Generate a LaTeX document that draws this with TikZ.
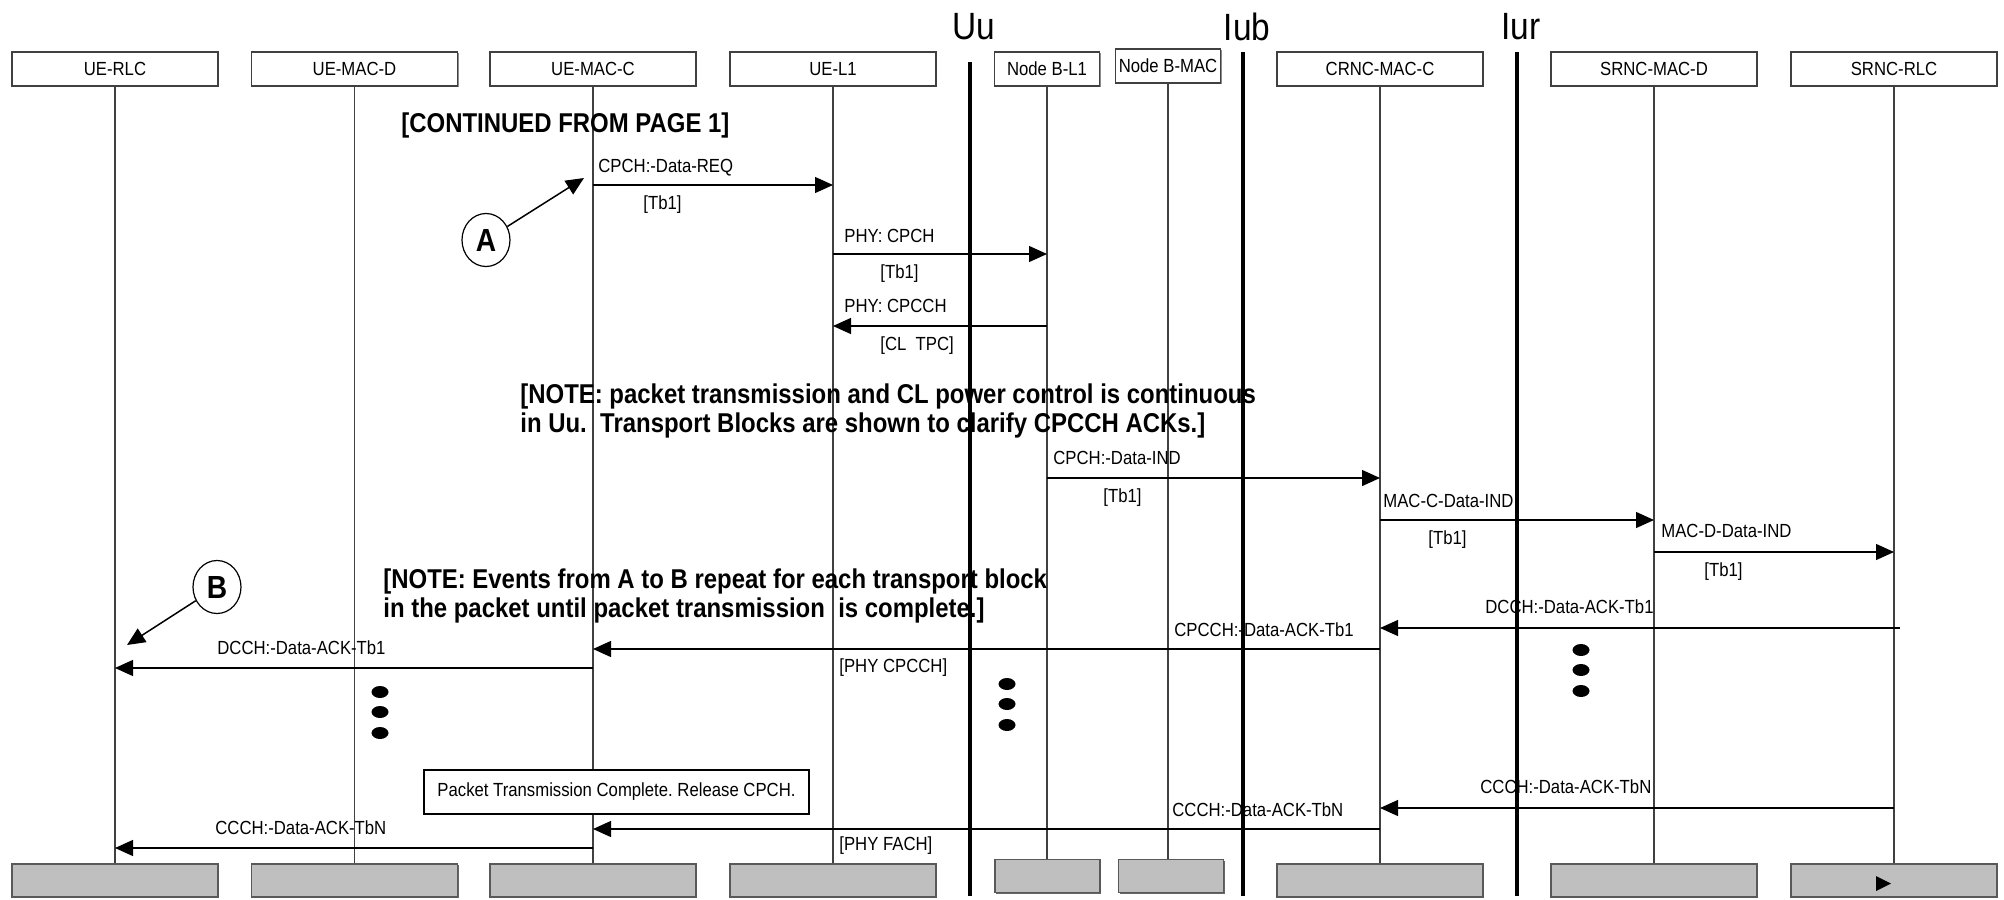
\documentclass[tikz,border=0pt]{standalone}
\usepackage{fontspec}
\setmainfont{Liberation Sans}[FakeStretch=0.88]
\usetikzlibrary{arrows.meta,shapes.geometric,shadows}
\newcommand{\lblfont}{\fontsize{9.5}{11}\selectfont}
\newcommand{\notefont}{\fontsize{13.6}{14.5}\selectfont\bfseries}
\newcommand{\ifacefont}{\fontsize{19}{22}\selectfont}
\frenchspacing
\begin{document}
\begin{tikzpicture}[x=0.5pt,y=-0.5pt,
  hdr/.style={draw=black!75, line width=0.6pt, fill=white, minimum width=103pt, minimum height=17pt, inner sep=0pt, font=\lblfont,
    general shadow={shadow xshift=0.6pt, shadow yshift=-0.6pt, fill=black!45}},
  nbhdr/.style={hdr, minimum width=52.5pt},
  ftr/.style={draw=black!65, line width=0.6pt, fill=black!25, minimum width=103pt, minimum height=16.5pt, inner sep=0pt,
    general shadow={shadow xshift=0.6pt, shadow yshift=-0.6pt, fill=black!60}},
  nbftr/.style={ftr, minimum width=52.5pt},
  life/.style={draw=black!75, line width=0.55pt},
  iface/.style={line width=1.6pt},
  msg/.style={line width=0.65pt, -{Triangle[length=9pt,width=8pt]}},
  lbl/.style={font=\lblfont, inner sep=0pt, text height=6.8pt, text depth=0pt, anchor=west},
  note/.style={font=\notefont, align=left, inner sep=0pt, anchor=north west},
  ifacelbl/.style={font=\ifacefont, inner sep=0pt},
  circ/.style={ellipse, draw, line width=0.6pt, minimum width=24pt, minimum height=26.5pt, inner sep=0pt, font=\fontsize{16}{18}\selectfont\bfseries},
  ptr/.style={line width=0.75pt, -{Triangle[length=9pt,width=8pt]}},
  bigdot/.style={fill=black}
]
\useasboundingbox (0,0) rectangle (2004,900);

% header boxes
\node[hdr] (rlc) at (115,69) {UE-RLC};
\node[hdr] (macd) at (354.5,69) {UE-MAC-D};
\node[hdr] (macc) at (593,69) {UE-MAC-C};
\node[hdr] (l1) at (833,69) {UE-L1};
\node[nbhdr] (nbl1) at (1047,69) {Node B-L1};
\node[nbhdr] (nbmac) at (1168,66) {Node B-MAC};
\node[hdr] (crnc) at (1380,69) {CRNC-MAC-C};
\node[hdr] (smacd) at (1654,69) {SRNC-MAC-D};
\node[hdr] (srlc) at (1894,69) {SRNC-RLC};

% footer boxes
\node[ftr] (rlcB) at (115,880.5) {};
\node[ftr] (macdB) at (354.5,880.5) {};
\node[ftr] (maccB) at (593,880.5) {};
\node[ftr] (l1B) at (833,880.5) {};
\node[nbftr] (nbl1B) at (1047.5,876) {};
\node[nbftr] (nbmacB) at (1171,876) {};
\node[ftr] (crncB) at (1380,880.5) {};
\node[ftr] (smacdB) at (1654,880.5) {};
\node[ftr] (srlcB) at (1894,880.5) {};
\fill (1876,876) -- (1891,883.5) -- (1876,891) -- cycle;

% lifelines
\draw[life] (rlc) -- (rlcB);
\draw[life] (macd) -- (macdB);
\draw[life] (macc) -- (maccB);
\draw[life] (l1) -- (l1B);
\draw[life] (nbl1.south) -- (nbl1.south |- nbl1B.north);
\draw[life] (nbmac.south) -- (nbmac.south |- nbmacB.north);
\draw[life] (crnc) -- (crncB);
\draw[life] (smacd) -- (smacdB);
\draw[life] (srlc) -- (srlcB);

% interfaces
\node[ifacelbl] (uu) at (974,27) {Uu};
\node[ifacelbl] (iub) at (1247,27) {Iub};
\node[ifacelbl] (iur) at (1521,27) {Iur};
\coordinate (uuT) at (970,62);  \coordinate (uuB) at (970,896);
\coordinate (iubT) at (1243,52); \coordinate (iubB) at (1243,896);
\coordinate (iurT) at (1517,52); \coordinate (iurB) at (1517,896);
\draw[iface] (uuT) -- (uuB);
\draw[iface] (iubT) -- (iubB);
\draw[iface] (iurT) -- (iurB);

% notes
\node[note] (cont) at (401,112) {[CONTINUED FROM PAGE 1]};
\node[note] (note1) at (520,383) {[NOTE: packet transmission and CL power control is continuous\\in Uu.\ \ Transport Blocks are shown to clarify CPCCH ACKs.]};
\node[note] (note2) at (383,568) {[NOTE: Events from A to B repeat for each transport block\\in the packet until packet transmission\ \ is complete.]};

% A / B markers
\node[circ] (A) at (486,240) {A};
\coordinate (Atip) at (584,178);
\draw[ptr] (A) -- (Atip);
\node[circ] (B) at (217,587) {B};
\coordinate (Btip) at (127,645);
\draw[ptr] (B) -- (Btip);

% messages
\draw[msg] (macc |- 0,185) -- (l1 |- 0,185);
\node[lbl] (m1) at (598,166) {CPCH:-Data-REQ};
\node[lbl] (m1b) at (643,203) {[Tb1]};

\draw[msg] (l1 |- 0,254) -- (nbl1 |- 0,254);
\node[lbl] (m2) at (844,236) {PHY: CPCH};
\node[lbl] (m2b) at (880,272) {[Tb1]};

\draw[msg] (nbl1 |- 0,326) -- (l1 |- 0,326);
\node[lbl] (m3) at (844,306) {PHY: CPCCH};
\node[lbl] (m3b) at (880,344) {[CL\ \ TPC]};

\draw[msg] (nbl1 |- 0,478) -- (crnc |- 0,478);
\node[lbl] (m4) at (1053,458) {CPCH:-Data-IND};
\node[lbl] (m4b) at (1103,496) {[Tb1]};

\draw[msg] (crnc |- 0,520) -- (smacd |- 0,520);
\node[lbl] (m5) at (1383,501) {MAC-C-Data-IND};
\node[lbl] (m5b) at (1428,538) {[Tb1]};

\draw[msg] (smacd |- 0,552) -- (srlc |- 0,552);
\node[lbl] (m6) at (1661,531) {MAC-D-Data-IND};
\node[lbl] (m6b) at (1704,570) {[Tb1]};

\coordinate (d1s) at (1900,628);
\draw[msg] (d1s) -- (crnc |- d1s);
\node[lbl] (m7) at (1485,607) {DCCH:-Data-ACK-Tb1};

\draw[msg] (crnc |- 0,649) -- (macc |- 0,649);
\node[lbl] (m8) at (1174,630) {CPCCH:-Data-ACK-Tb1};
\node[lbl] (m8b) at (839,666) {[PHY CPCCH]};

\draw[msg] (macc |- 0,668) -- (rlc |- 0,668);
\node[lbl] (m9) at (217,648) {DCCH:-Data-ACK-Tb1};

% continuation dots
\fill[bigdot] (380,692) ellipse [x radius=4.25pt, y radius=3pt];
\fill[bigdot] (380,712) ellipse [x radius=4.25pt, y radius=3pt];
\fill[bigdot] (380,733) ellipse [x radius=4.25pt, y radius=3pt];
\fill[bigdot] (1007,684) ellipse [x radius=4.25pt, y radius=3pt];
\fill[bigdot] (1007,704) ellipse [x radius=4.25pt, y radius=3pt];
\fill[bigdot] (1007,725) ellipse [x radius=4.25pt, y radius=3pt];
\fill[bigdot] (1581,650) ellipse [x radius=4.25pt, y radius=3pt];
\fill[bigdot] (1581,670) ellipse [x radius=4.25pt, y radius=3pt];
\fill[bigdot] (1581,691) ellipse [x radius=4.25pt, y radius=3pt];

% packet complete box
\node[draw, line width=0.6pt, fill=white, minimum width=192.5pt, minimum height=22pt, inner sep=0pt, font=\lblfont,
  general shadow={shadow xshift=0.6pt, shadow yshift=-0.6pt, fill=black!45}] (pkt) at (616.5,792) {Packet Transmission Complete. Release CPCH.};

\draw[msg] (srlc |- 0,808) -- (crnc |- 0,808);
\node[lbl] (m10) at (1480,787) {CCCH:-Data-ACK-TbN};

\draw[msg] (crnc |- 0,829) -- (macc |- 0,829);
\node[lbl] (m11) at (1172,810) {CCCH:-Data-ACK-TbN};

\draw[msg] (macc |- 0,848) -- (rlc |- 0,848);
\node[lbl] (m12) at (215,828) {CCCH:-Data-ACK-TbN};
\node[lbl] (m12b) at (839,844) {[PHY FACH]};
\end{tikzpicture}
\end{document}
